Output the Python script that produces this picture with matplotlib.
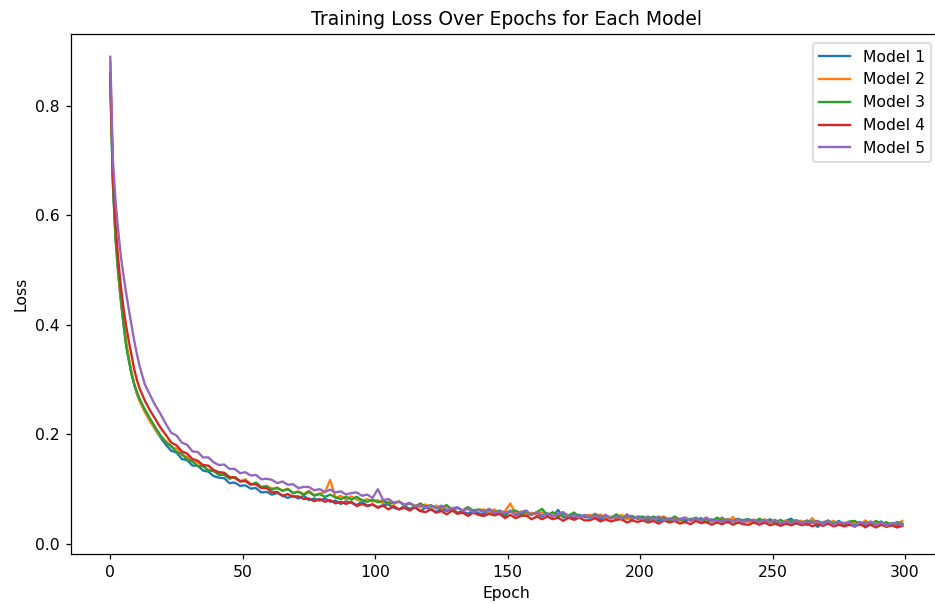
import matplotlib.pyplot as plt

# Епохи, на яких зчитано значення з графіка: 0..10 щоепохи, далі через одну
epochs = list(range(0, 11)) + list(range(11, 300, 2))

model_1 = [
    0.842, 0.655, 0.555, 0.492, 0.443, 0.402, 0.366, 0.337, 0.312, 0.292, 0.275,
    0.262, 0.243, 0.225, 0.209, 0.194,
    0.181, 0.170, 0.167, 0.155, 0.153, 0.143, 0.143, 0.134, 0.132, 0.124,
    0.121, 0.120, 0.111, 0.112, 0.106, 0.107, 0.101, 0.102, 0.094, 0.095,
    0.090, 0.093, 0.088, 0.084, 0.088, 0.083, 0.088, 0.080, 0.083, 0.079,
    0.083, 0.077, 0.079, 0.073, 0.078, 0.075, 0.071, 0.077, 0.070, 0.072,
    0.067, 0.071, 0.072, 0.066, 0.063, 0.069, 0.064, 0.067, 0.060, 0.066,
    0.064, 0.058, 0.064, 0.060, 0.065, 0.057, 0.059, 0.055, 0.061, 0.056,
    0.054, 0.061, 0.055, 0.058, 0.051, 0.061, 0.052, 0.055, 0.051, 0.056,
    0.055, 0.050, 0.056, 0.050, 0.062, 0.048, 0.052, 0.047, 0.053, 0.049,
    0.048, 0.052, 0.045, 0.051, 0.047, 0.052, 0.045, 0.048, 0.045, 0.050,
    0.049, 0.043, 0.047, 0.042, 0.048, 0.043, 0.049, 0.044, 0.041, 0.046,
    0.043, 0.047, 0.039, 0.045, 0.041, 0.048, 0.039, 0.043, 0.038, 0.044,
    0.045, 0.039, 0.042, 0.038, 0.045, 0.039, 0.036, 0.042, 0.046, 0.037,
    0.041, 0.035, 0.042, 0.031, 0.040, 0.041, 0.036, 0.042, 0.035, 0.039,
    0.036, 0.040, 0.030, 0.039, 0.036, 0.041, 0.033, 0.038, 0.034, 0.037,
]
model_2 = [
    0.880, 0.665, 0.560, 0.497, 0.446, 0.405, 0.368, 0.340, 0.315, 0.293, 0.276,
    0.262, 0.241, 0.224, 0.210, 0.196,
    0.188, 0.177, 0.174, 0.162, 0.159, 0.149, 0.149, 0.142, 0.135, 0.134,
    0.128, 0.129, 0.122, 0.122, 0.114, 0.118, 0.109, 0.109, 0.103, 0.106,
    0.101, 0.103, 0.097, 0.101, 0.093, 0.096, 0.091, 0.097, 0.089, 0.092,
    0.094, 0.117, 0.084, 0.088, 0.081, 0.087, 0.081, 0.078, 0.082, 0.077,
    0.080, 0.074, 0.077, 0.073, 0.078, 0.070, 0.074, 0.070, 0.067, 0.072,
    0.066, 0.070, 0.065, 0.069, 0.061, 0.066, 0.061, 0.067, 0.058, 0.062,
    0.063, 0.058, 0.063, 0.055, 0.060, 0.074, 0.055, 0.059, 0.052, 0.057,
    0.053, 0.058, 0.053, 0.056, 0.049, 0.054, 0.050, 0.057, 0.048, 0.052,
    0.053, 0.048, 0.054, 0.046, 0.050, 0.047, 0.053, 0.045, 0.050, 0.046,
    0.045, 0.050, 0.043, 0.048, 0.050, 0.043, 0.046, 0.042, 0.048, 0.043,
    0.046, 0.041, 0.048, 0.042, 0.040, 0.046, 0.041, 0.049, 0.040, 0.043,
    0.040, 0.044, 0.040, 0.045, 0.038, 0.042, 0.038, 0.043, 0.036, 0.042,
    0.042, 0.037, 0.047, 0.036, 0.040, 0.037, 0.042, 0.035, 0.039, 0.035,
    0.039, 0.034, 0.043, 0.035, 0.039, 0.035, 0.040, 0.034, 0.037, 0.042,
]
model_3 = [
    0.850, 0.660, 0.560, 0.500, 0.450, 0.400, 0.360, 0.335, 0.310, 0.292, 0.279,
    0.266, 0.246, 0.229, 0.213, 0.198,
    0.185, 0.179, 0.167, 0.165, 0.154, 0.151, 0.142, 0.142, 0.134, 0.133,
    0.126, 0.126, 0.119, 0.122, 0.115, 0.115, 0.108, 0.112, 0.104, 0.105,
    0.099, 0.102, 0.097, 0.100, 0.093, 0.095, 0.090, 0.095, 0.088, 0.091,
    0.086, 0.090, 0.085, 0.082, 0.086, 0.081, 0.086, 0.080, 0.077, 0.081,
    0.076, 0.079, 0.073, 0.076, 0.077, 0.071, 0.074, 0.068, 0.074, 0.068,
    0.071, 0.065, 0.067, 0.071, 0.062, 0.066, 0.061, 0.067, 0.061, 0.063,
    0.059, 0.063, 0.058, 0.061, 0.055, 0.059, 0.061, 0.055, 0.058, 0.053,
    0.058, 0.064, 0.052, 0.058, 0.050, 0.055, 0.052, 0.057, 0.050, 0.052,
    0.049, 0.055, 0.049, 0.052, 0.047, 0.054, 0.047, 0.050, 0.051, 0.046,
    0.050, 0.045, 0.050, 0.046, 0.048, 0.043, 0.050, 0.044, 0.046, 0.044,
    0.048, 0.043, 0.045, 0.041, 0.048, 0.043, 0.045, 0.041, 0.046, 0.042,
    0.045, 0.039, 0.046, 0.041, 0.044, 0.039, 0.044, 0.038, 0.042, 0.043,
    0.038, 0.043, 0.039, 0.042, 0.037, 0.043, 0.037, 0.040, 0.036, 0.041,
    0.042, 0.036, 0.039, 0.035, 0.042, 0.037, 0.039, 0.035, 0.040, 0.036,
]
model_4 = [
    0.860, 0.670, 0.582, 0.520, 0.470, 0.430, 0.398, 0.370, 0.345, 0.320, 0.300,
    0.285, 0.262, 0.244, 0.228, 0.212,
    0.199, 0.185, 0.180, 0.169, 0.165, 0.155, 0.152, 0.144, 0.143, 0.135,
    0.131, 0.130, 0.122, 0.121, 0.114, 0.115, 0.109, 0.109, 0.102, 0.102,
    0.094, 0.095, 0.088, 0.091, 0.086, 0.087, 0.082, 0.083, 0.078, 0.082,
    0.077, 0.080, 0.074, 0.077, 0.073, 0.077, 0.069, 0.073, 0.069, 0.072,
    0.066, 0.070, 0.063, 0.069, 0.063, 0.066, 0.061, 0.067, 0.060, 0.058,
    0.063, 0.057, 0.060, 0.054, 0.061, 0.055, 0.057, 0.051, 0.057, 0.053,
    0.051, 0.055, 0.052, 0.055, 0.047, 0.053, 0.047, 0.051, 0.052, 0.045,
    0.050, 0.045, 0.050, 0.045, 0.048, 0.042, 0.048, 0.044, 0.048, 0.043,
    0.043, 0.047, 0.041, 0.045, 0.041, 0.044, 0.045, 0.039, 0.043, 0.040,
    0.043, 0.039, 0.042, 0.037, 0.043, 0.039, 0.042, 0.037, 0.040, 0.036,
    0.042, 0.038, 0.040, 0.035, 0.039, 0.036, 0.041, 0.035, 0.039, 0.036,
    0.035, 0.039, 0.035, 0.039, 0.034, 0.037, 0.033, 0.037, 0.034, 0.038,
    0.034, 0.037, 0.032, 0.036, 0.033, 0.037, 0.032, 0.035, 0.032, 0.035,
    0.032, 0.036, 0.031, 0.035, 0.030, 0.035, 0.031, 0.034, 0.030, 0.033,
]
model_5 = [
    0.890, 0.700, 0.625, 0.572, 0.525, 0.490, 0.458, 0.428, 0.400, 0.372, 0.348,
    0.326, 0.292, 0.272, 0.253, 0.237,
    0.219, 0.203, 0.198, 0.185, 0.181, 0.169, 0.168, 0.158, 0.158, 0.149,
    0.144, 0.145, 0.137, 0.137, 0.129, 0.131, 0.125, 0.126, 0.118, 0.119,
    0.117, 0.111, 0.114, 0.108, 0.109, 0.102, 0.104, 0.104, 0.098, 0.100,
    0.095, 0.099, 0.094, 0.096, 0.090, 0.093, 0.094, 0.088, 0.090, 0.084,
    0.100, 0.080, 0.082, 0.075, 0.077, 0.072, 0.075, 0.069, 0.071, 0.066,
    0.070, 0.065, 0.070, 0.062, 0.065, 0.067, 0.061, 0.064, 0.058, 0.062,
    0.058, 0.064, 0.056, 0.060, 0.057, 0.060, 0.053, 0.058, 0.061, 0.053,
    0.058, 0.052, 0.055, 0.050, 0.055, 0.058, 0.050, 0.053, 0.048, 0.053,
    0.049, 0.053, 0.048, 0.053, 0.046, 0.050, 0.046, 0.054, 0.047, 0.049,
    0.045, 0.050, 0.045, 0.050, 0.043, 0.047, 0.043, 0.046, 0.048, 0.042,
    0.046, 0.043, 0.048, 0.041, 0.044, 0.040, 0.045, 0.041, 0.045, 0.040,
    0.043, 0.044, 0.039, 0.043, 0.040, 0.044, 0.037, 0.041, 0.038, 0.043,
    0.037, 0.041, 0.038, 0.042, 0.036, 0.042, 0.035, 0.040, 0.037, 0.040,
    0.031, 0.040, 0.036, 0.041, 0.034, 0.039, 0.033, 0.038, 0.037, 0.035,
]

models = [model_1, model_2, model_3, model_4, model_5]
labels = ['Model 1', 'Model 2', 'Model 3', 'Model 4', 'Model 5']

# Скріншот збільшений приблизно в 1.125 раза, тому dpi 112.5
dpi = 112.5
fig = plt.figure(figsize=(935 / dpi, 604 / dpi), dpi=dpi)
# Вісь трохи виходить за правий край, як на обрізаному скріншоті
ax = fig.add_axes([0.0756, 0.0823, 0.9319, 0.8609])

for values, label in zip(models, labels):
    ax.plot(epochs, values, label=label)

ax.set_xlim(-14.95, 313.95)
ax.set_ylim(-0.019, 0.931)
ax.set_title('Training Loss Over Epochs for Each Model')
ax.set_xlabel('Epoch')
ax.set_ylabel('Loss')
ax.legend(loc='upper right', bbox_to_anchor=(0.9874, 0.9827), borderaxespad=0)

fig.savefig('out.png', dpi=dpi)
